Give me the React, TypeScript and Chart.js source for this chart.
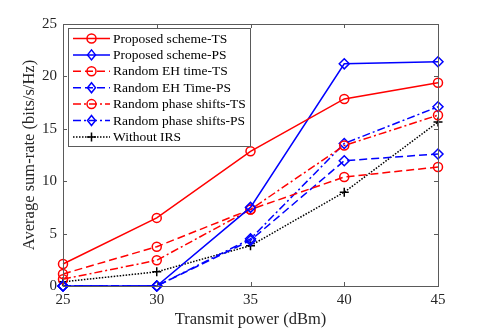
import React, { useEffect, useRef } from 'react';
import { Chart, registerables } from 'chart.js';

Chart.register(...registerables);

const powers = [25, 30, 35, 40, 45];
const proposedTS = [2.1, 6.5, 12.85, 17.85, 19.4];
const proposedPS = [0, 0, 7.5, 21.2, 21.4];
const randomEhTS = [1.15, 3.75, 7.3, 10.4, 11.35];
const randomEhPS = [0, 0, 4.35, 11.95, 12.6];
const randomPhaseTS = [0.65, 2.45, 7.3, 13.4, 16.3];
const randomPhasePS = [0, 0, 4.5, 13.6, 17.1];
const withoutIRS = [0.4, 1.35, 3.85, 8.95, 15.65];
const seriesNames = [
  'Proposed scheme-TS',
  'Proposed scheme-PS',
  'Random EH time-TS',
  'Random EH Time-PS',
  'Random phase shifts-TS',
  'Random phase shifts-PS',
  'Without IRS',
];
const xTicks = [25, 30, 35, 40, 45];
const yTicks = [0, 5, 10, 15, 20, 25];

const RED = '#ff0000';
const BLUE = '#0000ff';
const BLACK = '#000000';
const DASH = [8, 4];
const DASHDOT = [8, 3, 2, 3];
const DOT = [1.5, 1.5];
const FRAME = '#5a5a5a';
const FONT = '"Liberation Serif", "Times New Roman", serif';

const styles = [
  { color: RED, dash: [] as number[], marker: 'circle' },
  { color: BLUE, dash: [] as number[], marker: 'rectRot' },
  { color: RED, dash: DASH, marker: 'circle' },
  { color: BLUE, dash: DASH, marker: 'rectRot' },
  { color: RED, dash: DASHDOT, marker: 'circle' },
  { color: BLUE, dash: DASHDOT, marker: 'rectRot' },
  { color: BLACK, dash: DOT, marker: 'cross' },
];
const seriesValues = [proposedTS, proposedPS, randomEhTS, randomEhPS, randomPhaseTS, randomPhasePS, withoutIRS];

function drawMarker(ctx: CanvasRenderingContext2D, kind: string, x: number, y: number, color: string) {
  ctx.save();
  ctx.setLineDash([]);
  ctx.strokeStyle = color;
  ctx.lineWidth = 1.5;
  ctx.beginPath();
  if (kind === 'circle') {
    ctx.arc(x, y, 4.5, 0, Math.PI * 2);
  } else if (kind === 'rectRot') {
    const r = 5;
    ctx.moveTo(x, y - r);
    ctx.lineTo(x + r * 0.8, y);
    ctx.lineTo(x, y + r);
    ctx.lineTo(x - r * 0.8, y);
    ctx.closePath();
  } else {
    ctx.moveTo(x - 4.5, y);
    ctx.lineTo(x + 4.5, y);
    ctx.moveTo(x, y - 4.5);
    ctx.lineTo(x, y + 4.5);
  }
  ctx.stroke();
  ctx.restore();
}

const framePlugin = {
  id: 'matlabFrame',
  afterDatasetsDraw(chart: any) {
    const { ctx, chartArea } = chart;
    const xs = chart.scales.x;
    const ys = chart.scales.y;
    const { left, right, top, bottom } = chartArea;
    ctx.save();
    ctx.strokeStyle = FRAME;
    ctx.lineWidth = 1;
    ctx.setLineDash([]);
    ctx.strokeRect(Math.round(left) + 0.5, Math.round(top) + 0.5, Math.round(right - left), Math.round(bottom - top));
    ctx.beginPath();
    const tl = 4;
    xTicks.forEach((v) => {
      const px = Math.round(xs.getPixelForValue(v)) + 0.5;
      ctx.moveTo(px, bottom);
      ctx.lineTo(px, bottom - tl);
      ctx.moveTo(px, top);
      ctx.lineTo(px, top + tl);
    });
    yTicks.forEach((v) => {
      const py = Math.round(ys.getPixelForValue(v)) + 0.5;
      ctx.moveTo(left, py);
      ctx.lineTo(left + tl, py);
      ctx.moveTo(right, py);
      ctx.lineTo(right - tl, py);
    });
    ctx.stroke();

    // legend
    const bx = 68.5, by = 28.5, bw = 182, bh = 118;
    ctx.fillStyle = '#ffffff';
    ctx.fillRect(bx, by, bw, bh);
    ctx.strokeStyle = FRAME;
    ctx.strokeRect(bx, by, bw, bh);
    ctx.font = '13.5px ' + FONT;
    ctx.textBaseline = 'middle';
    ctx.textAlign = 'left';
    seriesNames.forEach((name, i) => {
      const y = 38.5 + i * 16.4;
      const s = styles[i];
      ctx.save();
      ctx.strokeStyle = s.color;
      ctx.lineWidth = 1.5;
      ctx.setLineDash(s.dash);
      ctx.beginPath();
      ctx.moveTo(73, y);
      ctx.lineTo(110, y);
      ctx.stroke();
      ctx.restore();
      drawMarker(ctx, s.marker, 91.5, y, s.color);
      ctx.fillStyle = '#000000';
      ctx.fillText(name, 113, y + 0.5);
    });
    ctx.restore();
  },
};

export default function App() {
  const ref = useRef<HTMLCanvasElement>(null);
  useEffect(() => {
    document.body.style.margin = '0';
    const canvas = ref.current;
    if (!canvas) return;
    const datasets = seriesNames.map((name, i) => {
      const s = styles[i];
      return {
        label: name,
        data: powers.map((p, j) => ({ x: p, y: seriesValues[i][j] })),
        borderColor: s.color,
        backgroundColor: 'rgba(0,0,0,0)',
        borderWidth: 1.5,
        borderDash: s.dash,
        pointStyle: s.marker,
        pointRadius: s.marker === 'rectRot' ? 5 : 4.5,
        pointBorderWidth: 1.5,
        pointBorderColor: s.color,
        pointBackgroundColor: 'rgba(0,0,0,0)',
        tension: 0,
        clip: false as any,
      };
    });
    const chart = new Chart(canvas, {
      type: 'line',
      data: { datasets },
      plugins: [framePlugin],
      options: {
        responsive: false,
        animation: false,
        devicePixelRatio: 1,
        layout: { padding: { left: 0, top: 24, right: 47, bottom: 0 } },
        plugins: { legend: { display: false }, tooltip: { enabled: false } },
        scales: {
          x: {
            type: 'linear',
            min: 25,
            max: 45,
            afterFit: (scale: any) => { scale.height = 44; },
            afterBuildTicks: (scale: any) => { scale.ticks = xTicks.map((v) => ({ value: v })); },
            grid: { display: false, drawTicks: false },
            border: { display: false },
            ticks: { padding: 5, color: '#262626', font: { family: FONT, size: 15 }, maxRotation: 0 },
            title: { display: true, text: 'Transmit power (dBm)', color: '#262626', font: { family: FONT, size: 16.5 }, padding: { top: 0, bottom: 0 } },
          },
          y: {
            type: 'linear',
            min: 0,
            max: 25,
            afterFit: (scale: any) => { scale.width = 63; },
            afterBuildTicks: (scale: any) => { scale.ticks = yTicks.map((v) => ({ value: v })); },
            grid: { display: false, drawTicks: false },
            border: { display: false },
            ticks: { padding: 6, color: '#262626', font: { family: FONT, size: 15 } },
            title: { display: true, text: 'Average sum-rate (bits/s/Hz)', color: '#262626', font: { family: FONT, size: 16.5 }, padding: { top: 20, bottom: 0 } },
          },
        },
      },
    });
    return () => chart.destroy();
  }, []);
  return (
    <div style={{ width: 485, height: 330 }}>
      <canvas ref={ref} width={485} height={330} />
    </div>
  );
}
